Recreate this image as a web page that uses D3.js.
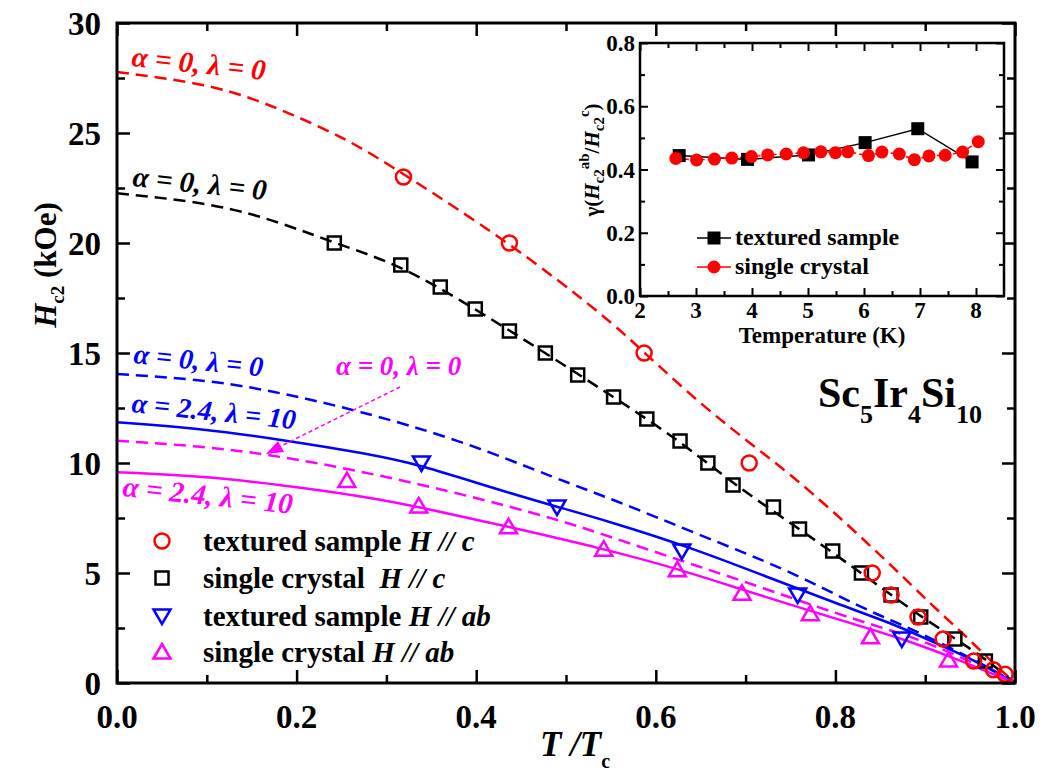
<!DOCTYPE html>
<html>
<head>
<meta charset="utf-8">
<script src="https://d3js.org/d3.v7.min.js"></script>
<style>
  body { margin: 0; background: #fff; }
  svg text { font-family: "Liberation Serif", "Times New Roman", Times, "DejaVu Serif", serif; font-weight: bold; }
</style>
</head>
<body>
<svg id="chart" width="1045" height="778"></svg>
<script>
// ---- main panel data (T/Tc, Hc2 in kOe) ----
const texC_t = [0.319, 0.437, 0.587, 0.704, 0.841, 0.862, 0.892, 0.920, 0.954, 0.976, 0.989];
const texC_h = [23, 20, 15, 10, 5, 4, 3, 2, 1, 0.6, 0.4];

const sglC_t = [0.242, 0.316, 0.360, 0.399, 0.437, 0.477, 0.513, 0.553, 0.590, 0.627, 0.658, 0.686, 0.731, 0.760, 0.797, 0.829, 0.862, 0.895, 0.933, 0.967];
const sglC_h = [20, 19, 18, 17, 16, 15, 14, 13, 12, 11, 10, 9, 8, 7, 6, 5, 4, 3, 2, 1];

const texAB_t = [0.339, 0.490, 0.629, 0.758, 0.874];
const texAB_h = [10, 8, 6, 4, 2];

const sglAB_t = [0.256, 0.336, 0.436, 0.542, 0.624, 0.696, 0.772, 0.839, 0.926];
const sglAB_h = [9.2, 8.05, 7.1, 6.08, 5.15, 4.08, 3.15, 2.1, 1.05];

// fitted curves
const fitRed_t = [0, 0.11, 0.1845, 0.2587, 0.318, 0.4366, 0.545, 0.586, 0.649, 0.705, 0.768, 0.868, 0.905, 0.942, 0.972, 1];
const fitRed_h = [27.77, 27.2, 26.05, 24.68, 23.17, 20.03, 16.62, 15.06, 12.71, 10.89, 8.92, 5.14, 3.62, 2.26, 1.05, 0];

const fitBlack_t = [0, 0.11, 0.1845, 0.242, 0.316, 0.399, 0.477, 0.553, 0.627, 0.686, 0.760, 0.829, 0.895, 0.9536, 0.987, 1];
const fitBlack_h = [22.26, 21.8, 20.9, 20.0, 19.0, 17.0, 15.0, 13.0, 11.0, 9.05, 7.0, 5.0, 3.0, 1.5, 0.44, 0];

const fitBlueDash_t = [0, 0.11, 0.1845, 0.266, 0.382, 0.493, 0.549, 0.649, 0.746, 0.805, 0.842, 0.868, 0.924, 0.98, 1];
const fitBlueDash_h = [14.05, 13.74, 13.17, 12.41, 11.05, 9.23, 8.40, 6.73, 5.14, 3.92, 3.2, 2.75, 1.7, 0.5, 0];

const fitBlue_t = [0, 0.0917, 0.1845, 0.277, 0.339, 0.419, 0.490, 0.549, 0.638, 0.7235, 0.805, 0.868, 0.924, 0.954, 1];
const fitBlue_h = [11.85, 11.58, 11.05, 10.44, 9.91, 8.85, 8.01, 7.33, 6.17, 4.83, 3.55, 2.64, 1.58, 1.05, 0];

const fitMagDash_t = [0, 0.0917, 0.168, 0.266, 0.382, 0.493, 0.549, 0.631, 0.705, 0.805, 0.868, 0.924, 1];
const fitMagDash_h = [11.01, 10.77, 10.40, 9.68, 8.62, 7.41, 6.65, 5.52, 4.53, 3.09, 2.33, 1.5, 0];

const fitMag_t = [0, 0.0917, 0.1845, 0.277, 0.336, 0.436, 0.540, 0.623, 0.697, 0.805, 0.868, 0.924, 1];
const fitMag_h = [9.58, 9.41, 9.0, 8.47, 8.01, 7.10, 6.12, 5.21, 4.23, 2.86, 2.1, 1.27, 0];

const xTicks = [0, 0.2, 0.4, 0.6, 0.8, 1.0];
const yTicks = [0, 5, 10, 15, 20, 25, 30];

// ---- inset data (Temperature K, gamma) ----
const insTex_T = [2.70, 3.92, 5.01, 6.02, 6.96, 7.93];
const insTex_g = [0.444, 0.432, 0.446, 0.485, 0.529, 0.424];

const insSgl_T = [2.64, 3.01, 3.33, 3.64, 3.99, 4.28, 4.61, 4.92, 5.23, 5.49, 5.71, 6.08, 6.32, 6.63, 6.90, 7.16, 7.45, 7.76, 8.04];
const insSgl_g = [0.435, 0.430, 0.433, 0.436, 0.441, 0.446, 0.449, 0.453, 0.456, 0.453, 0.456, 0.444, 0.455, 0.449, 0.431, 0.443, 0.445, 0.455, 0.488];

const insXTicks = [2, 3, 4, 5, 6, 7, 8];
const insYTicks = [0.0, 0.2, 0.4, 0.6, 0.8];

// ---- setup ----
const svg = d3.select("#chart");
const RED = "#ff0000", BLUE = "#0000ff", MAG = "#ff00ff", BLACK = "#000";

const x = d3.scaleLinear().domain([0, 1]).range([117, 1015]);
const y = d3.scaleLinear().domain([0, 30]).range([683, 23]);

const zip = (a, b) => a.map((v, i) => [v, b[i]]);

// main axes: inward ticks on all four sides
function ticks(g, axis) { g.call(axis); g.select(".domain").remove(); g.selectAll(".tick line").attr("stroke", BLACK).attr("stroke-width", 2.5); }

const majX = d3.range(0, 1.0001, 0.2), minX = d3.range(0.1, 1, 0.2);
const majY = d3.range(0, 30.001, 5), minY = d3.range(2.5, 30, 5);

svg.append("g").attr("transform", `translate(0,${y(0)})`)
  .call(ticks, d3.axisBottom(x).tickValues(majX).tickSize(-13).tickFormat(""));
svg.append("g").attr("transform", `translate(0,${y(0)})`)
  .call(ticks, d3.axisBottom(x).tickValues(minX).tickSize(-8).tickFormat(""));
svg.append("g").attr("transform", `translate(0,${y(30)})`)
  .call(ticks, d3.axisTop(x).tickValues(majX).tickSize(-13).tickFormat(""));
svg.append("g").attr("transform", `translate(0,${y(30)})`)
  .call(ticks, d3.axisTop(x).tickValues(minX).tickSize(-8).tickFormat(""));
svg.append("g").attr("transform", `translate(${x(0)},0)`)
  .call(ticks, d3.axisLeft(y).tickValues(majY).tickSize(-13).tickFormat(""));
svg.append("g").attr("transform", `translate(${x(0)},0)`)
  .call(ticks, d3.axisLeft(y).tickValues(minY).tickSize(-8).tickFormat(""));
svg.append("g").attr("transform", `translate(${x(1)},0)`)
  .call(ticks, d3.axisRight(y).tickValues(majY).tickSize(-13).tickFormat(""));
svg.append("g").attr("transform", `translate(${x(1)},0)`)
  .call(ticks, d3.axisRight(y).tickValues(minY).tickSize(-8).tickFormat(""));

// tick labels
svg.append("g").selectAll("text").data(xTicks).join("text")
  .attr("x", d => x(d)).attr("y", 728).attr("text-anchor", "middle")
  .attr("font-size", 33).text(d => d3.format(".1f")(d));
svg.append("g").selectAll("text").data(yTicks).join("text")
  .attr("x", 101).attr("y", d => y(d)).attr("dy", "0.35em").attr("text-anchor", "end")
  .attr("font-size", 33).text(d => d);

// curves
const line = d3.line().x(d => x(d[0])).y(d => y(d[1])).curve(d3.curveBasis);
const plot = svg.append("g");
const curves = [
  [fitRed_t, fitRed_h, RED, "12,7"],
  [fitBlack_t, fitBlack_h, BLACK, "12,7"],
  [fitBlueDash_t, fitBlueDash_h, BLUE, "12,7"],
  [fitBlue_t, fitBlue_h, BLUE, null],
  [fitMagDash_t, fitMagDash_h, MAG, "12,7"],
  [fitMag_t, fitMag_h, MAG, null]
];
curves.forEach(([t, h, c, dash]) => {
  plot.append("path").datum(zip(t, h)).attr("d", line)
    .attr("fill", "none").attr("stroke", c).attr("stroke-width", 2.5)
    .attr("stroke-dasharray", dash);
});

// markers
function circles(g, data, c) {
  g.selectAll(null).data(data).join("circle")
    .attr("cx", d => x(d[0])).attr("cy", d => y(d[1])).attr("r", 7.5)
    .attr("fill", "none").attr("stroke", c).attr("stroke-width", 2.5);
}
function squares(g, data, c) {
  g.selectAll(null).data(data).join("rect")
    .attr("x", d => x(d[0]) - 6.5).attr("y", d => y(d[1]) - 6.5)
    .attr("width", 13).attr("height", 13)
    .attr("fill", "none").attr("stroke", c).attr("stroke-width", 2.5);
}
function triangles(g, data, c, down) {
  const s = down ? 1 : -1;
  g.selectAll(null).data(data).join("path")
    .attr("d", d => {
      const cx = x(d[0]), cy = y(d[1]);
      return `M${cx - 8.5},${cy - s * 6.5}L${cx + 8.5},${cy - s * 6.5}L${cx},${cy + s * 8}Z`;
    })
    .attr("fill", "none").attr("stroke", c).attr("stroke-width", 2.5).attr("stroke-linejoin", "miter");
}
squares(plot.append("g"), zip(sglC_t, sglC_h), BLACK);
triangles(plot.append("g"), zip(texAB_t, texAB_h), BLUE, true);
triangles(plot.append("g"), zip(sglAB_t, sglAB_h), MAG, false);
circles(plot.append("g"), zip(texC_t, texC_h), RED);

// curve labels
function alphaLabel(px, py, rot, c, a, l, fs) {
  svg.append("text")
    .attr("transform", `translate(${px},${py}) rotate(${rot})`)
    .attr("fill", c).attr("font-size", fs).attr("font-style", "italic")
    .text(`\u03b1 = ${a}, \u03bb = ${l}`);
}
alphaLabel(131, 66, 6, RED, "0", "0", 29);
alphaLabel(132, 186, 6, BLACK, "0", "0", 29);
alphaLabel(133, 363, 6, BLUE, "0", "0", 28);
alphaLabel(131, 412, 6, BLUE, "2.4", "10", 28);
alphaLabel(122, 496, 6, MAG, "2.4", "10", 29);
alphaLabel(336, 375, 0, MAG, "0", "0", 27);

// magenta arrow
svg.append("line").attr("x1", 400).attr("y1", 387).attr("x2", 275).attr("y2", 449)
  .attr("stroke", MAG).attr("stroke-width", 1.5).attr("stroke-dasharray", "4,3");
svg.append("path").attr("d", "M266,454 L278,441 L284,452 Z").attr("fill", MAG);

// compound name
const nm = svg.append("text").attr("x", 818).attr("y", 407).attr("font-size", 42);
nm.append("tspan").text("Sc");
nm.append("tspan").attr("font-size", 26).attr("dy", 16).text("5");
nm.append("tspan").attr("dy", -16).text("Ir");
nm.append("tspan").attr("font-size", 26).attr("dy", 16).text("4");
nm.append("tspan").attr("dy", -16).text("Si");
nm.append("tspan").attr("font-size", 26).attr("dy", 16).text("10");

// legend
const legRows = [
  ["circle", RED, "textured sample ", "c"],
  ["square", BLACK, "single crystal  ", "c"],
  ["down", BLUE, "textured sample ", "ab"],
  ["up", MAG, "single crystal ", "ab"]
];
const legY = [541, 578, 616, 652];
legRows.forEach((r, i) => {
  const cy = legY[i], cx = 162;
  const g = svg.append("g");
  if (r[0] === "circle") g.append("circle").attr("cx", cx).attr("cy", cy).attr("r", 7.5);
  else if (r[0] === "square") g.append("rect").attr("x", cx - 6.5).attr("y", cy - 6.5).attr("width", 13).attr("height", 13);
  else {
    const s = r[0] === "down" ? 1 : -1;
    g.append("path").attr("d", `M${cx - 8.5},${cy - s * 6.5}L${cx + 8.5},${cy - s * 6.5}L${cx},${cy + s * 8}Z`);
  }
  g.selectAll("*").attr("fill", "none").attr("stroke", r[1]).attr("stroke-width", 2.5);
  const t = svg.append("text").attr("x", 203).attr("y", cy + 10).attr("font-size", 29)
    .attr("xml:space", "preserve");
  t.append("tspan").text(r[2]);
  t.append("tspan").attr("font-style", "italic").text("H // " + r[3]);
});

// axis titles
const xl = svg.append("text").attr("x", 540).attr("y", 756).attr("font-size", 35).attr("font-style", "italic");
xl.append("tspan").text("T /T");
xl.append("tspan").attr("font-size", 20).attr("font-style", "normal").attr("dy", 12).text("c");

const yl = svg.append("text").attr("transform", "translate(56,265) rotate(-90)")
  .attr("text-anchor", "middle").attr("font-size", 31);
yl.append("tspan").attr("font-style", "italic").text("H");
yl.append("tspan").attr("font-size", 19).attr("dy", 8).text("c2");
yl.append("tspan").attr("dy", -8).text(" (kOe)");

// frame
svg.append("rect").attr("x", x(0)).attr("y", y(30)).attr("width", x(1) - x(0)).attr("height", y(0) - y(30))
  .attr("fill", "none").attr("stroke", BLACK).attr("stroke-width", 3);

// ---- inset ----
const ix = d3.scaleLinear().domain([2, 8.5]).range([640, 1004]);
const iy = d3.scaleLinear().domain([0, 0.8]).range([296, 43]);
const ins = svg.append("g");
ins.append("rect").attr("x", ix(2)).attr("y", iy(0.8)).attr("width", ix(8.5) - ix(2)).attr("height", iy(0) - iy(0.8))
  .attr("fill", "#fff");

function iticks(g, axis) { g.call(axis); g.select(".domain").remove(); g.selectAll(".tick line").attr("stroke", BLACK).attr("stroke-width", 2); }
const iMajX = d3.range(2, 8.01, 1), iMinX = d3.range(2.5, 8.5, 1);
const iMajY = d3.range(0, 0.801, 0.2), iMinY = d3.range(0.1, 0.8, 0.2);
ins.append("g").attr("transform", `translate(0,${iy(0)})`).call(iticks, d3.axisBottom(ix).tickValues(iMajX).tickSize(-8).tickFormat(""));
ins.append("g").attr("transform", `translate(0,${iy(0)})`).call(iticks, d3.axisBottom(ix).tickValues(iMinX).tickSize(-5).tickFormat(""));
ins.append("g").attr("transform", `translate(0,${iy(0.8)})`).call(iticks, d3.axisTop(ix).tickValues(iMajX).tickSize(-8).tickFormat(""));
ins.append("g").attr("transform", `translate(0,${iy(0.8)})`).call(iticks, d3.axisTop(ix).tickValues(iMinX).tickSize(-5).tickFormat(""));
ins.append("g").attr("transform", `translate(${ix(2)},0)`).call(iticks, d3.axisLeft(iy).tickValues(iMajY).tickSize(-8).tickFormat(""));
ins.append("g").attr("transform", `translate(${ix(2)},0)`).call(iticks, d3.axisLeft(iy).tickValues(iMinY).tickSize(-5).tickFormat(""));
ins.append("g").attr("transform", `translate(${ix(8.5)},0)`).call(iticks, d3.axisRight(iy).tickValues(iMajY).tickSize(-8).tickFormat(""));
ins.append("g").attr("transform", `translate(${ix(8.5)},0)`).call(iticks, d3.axisRight(iy).tickValues(iMinY).tickSize(-5).tickFormat(""));

ins.selectAll(null).data(insXTicks).join("text")
  .attr("x", d => ix(d)).attr("y", 318).attr("text-anchor", "middle").attr("font-size", 23).text(d => d);
ins.selectAll(null).data(insYTicks).join("text")
  .attr("x", 635).attr("y", d => iy(d)).attr("dy", "0.35em").attr("text-anchor", "end").attr("font-size", 23)
  .text(d => d3.format(".1f")(d));

const iline = d3.line().x(d => ix(d[0])).y(d => iy(d[1]));
ins.append("path").datum(zip(insTex_T, insTex_g)).attr("d", iline)
  .attr("fill", "none").attr("stroke", BLACK).attr("stroke-width", 1.5);
ins.append("path").datum(zip(insSgl_T, insSgl_g)).attr("d", iline)
  .attr("fill", "none").attr("stroke", RED).attr("stroke-width", 1.5).attr("stroke-dasharray", "5,3");
ins.selectAll(null).data(zip(insTex_T, insTex_g)).join("rect")
  .attr("x", d => ix(d[0]) - 6.5).attr("y", d => iy(d[1]) - 6.5).attr("width", 13).attr("height", 13).attr("fill", BLACK);
ins.selectAll(null).data(zip(insSgl_T, insSgl_g)).join("circle")
  .attr("cx", d => ix(d[0])).attr("cy", d => iy(d[1])).attr("r", 6.5).attr("fill", RED);

// inset legend
[["textured sample", BLACK, "sq", 238], ["single crystal", RED, "ci", 267]].forEach(([lab, c, m, ly]) => {
  ins.append("line").attr("x1", 697).attr("x2", 731).attr("y1", ly).attr("y2", ly).attr("stroke", c).attr("stroke-width", 1.5);
  if (m === "sq") ins.append("rect").attr("x", 707.5).attr("y", ly - 6.5).attr("width", 13).attr("height", 13).attr("fill", c);
  else ins.append("circle").attr("cx", 714).attr("cy", ly).attr("r", 6.5).attr("fill", c);
  ins.append("text").attr("x", 735).attr("y", ly + 7).attr("font-size", 24).text(lab);
});

ins.append("text").attr("x", 822).attr("y", 343).attr("text-anchor", "middle").attr("font-size", 23).text("Temperature (K)");

const gl = ins.append("text").attr("transform", "translate(599,160) rotate(-90)")
  .attr("text-anchor", "middle").attr("font-size", 21);
gl.append("tspan").text("\u03b3(");
gl.append("tspan").attr("font-style", "italic").text("H");
gl.append("tspan").attr("font-size", 15).attr("dy", 5).text("c2");
gl.append("tspan").attr("font-size", 15).attr("dy", -15).text("ab");
gl.append("tspan").attr("dy", 10).text("/");
gl.append("tspan").attr("font-style", "italic").text("H");
gl.append("tspan").attr("font-size", 15).attr("dy", 5).text("c2");
gl.append("tspan").attr("font-size", 15).attr("dy", -15).text("c");
gl.append("tspan").attr("dy", 10).text(")");

ins.append("rect").attr("x", ix(2)).attr("y", iy(0.8)).attr("width", ix(8.5) - ix(2)).attr("height", iy(0) - iy(0.8))
  .attr("fill", "none").attr("stroke", BLACK).attr("stroke-width", 2.5);
</script>
</body>
</html>
